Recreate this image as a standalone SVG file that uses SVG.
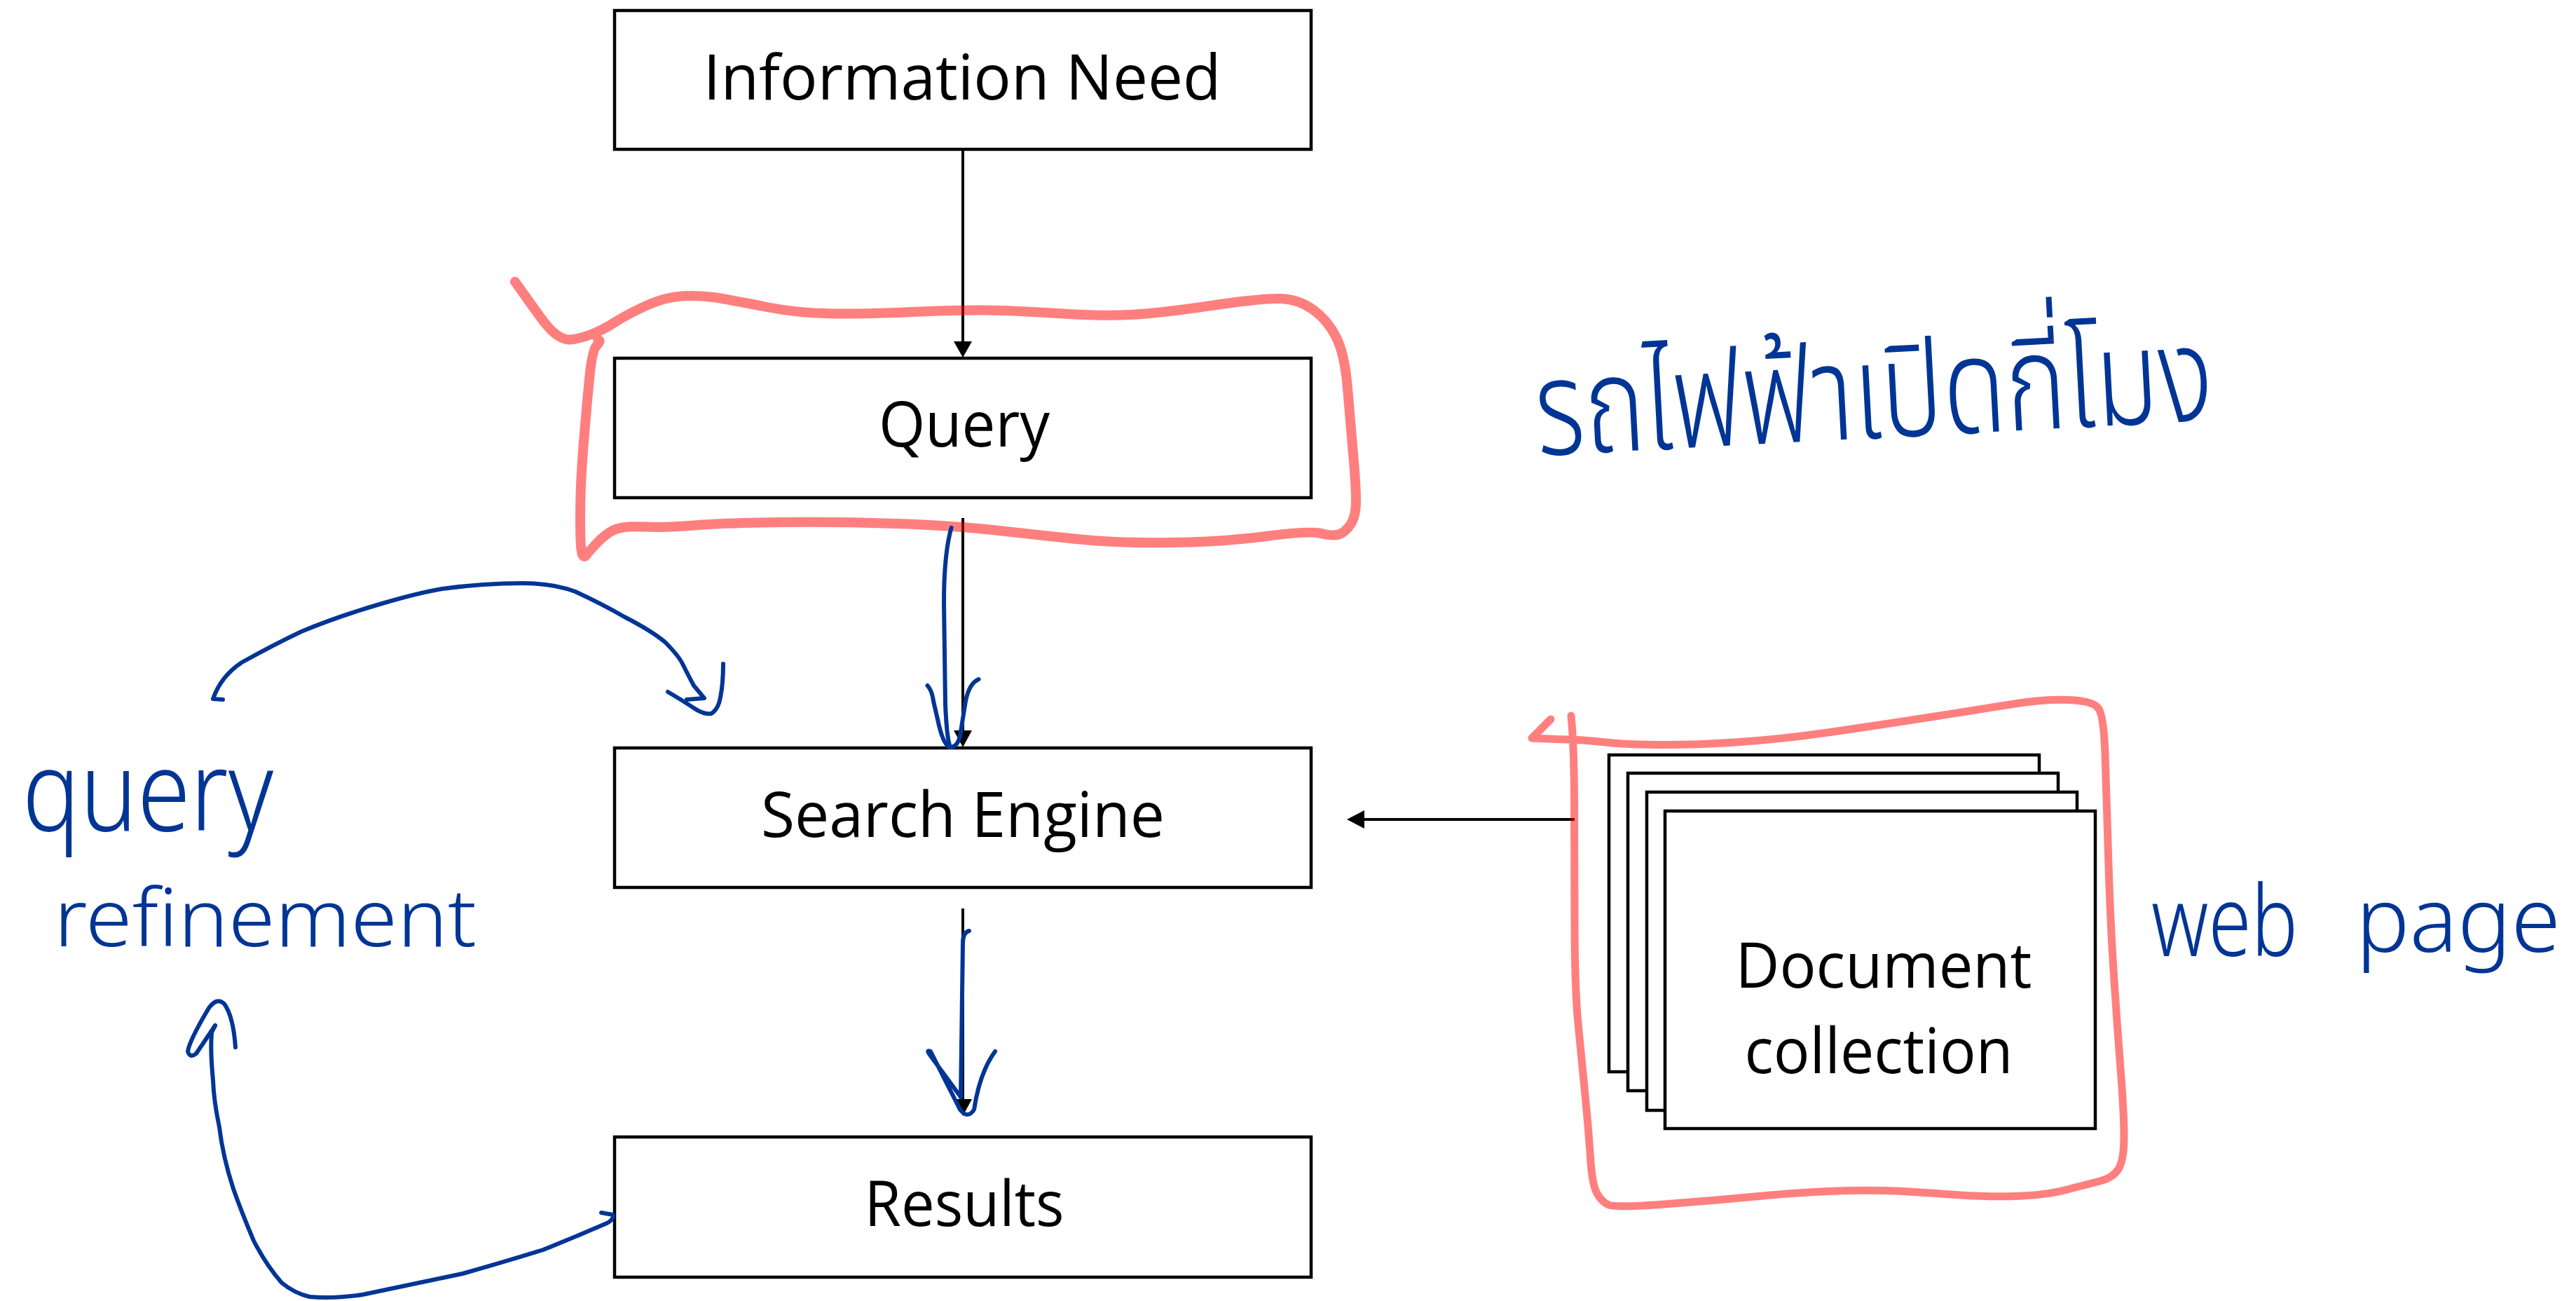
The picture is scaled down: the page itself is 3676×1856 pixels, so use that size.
<svg xmlns="http://www.w3.org/2000/svg" width="3676" height="1856" viewBox="0 0 3676 1856">
  <defs>
    <style>
      .box { fill: #ffffff; stroke: #000000; stroke-width: 4.5; }
      .label { font-family: "Open Sans", "Noto Sans", "DejaVu Sans", sans-serif; font-size: 89px; fill: #000000; text-anchor: middle; }
      .flow { stroke: #000000; stroke-width: 4; fill: none; }
      .head { fill: #000000; }
      .pen { fill: none; stroke: #003595; stroke-width: 6; stroke-linecap: round; stroke-linejoin: round; }
      .hl { fill: none; stroke: #ff0000; stroke-opacity: 0.5; stroke-linecap: round; stroke-linejoin: round; }
      .note { font-family: "Noto Sans", "DejaVu Sans", sans-serif; font-weight: 300; fill: #003595; }
      .thai { font-family: "Noto Sans Thai", "Noto Sans", "DejaVu Sans", sans-serif; font-weight: 300; fill: #003595; }
    </style>
  </defs>
  <rect width="3676" height="1856" fill="#ffffff"/>

  <!-- pipeline boxes -->
  <g id="information-need">
    <rect class="box" x="877" y="15" width="994" height="198"/>
    <text class="label" x="1373" y="142" textLength="739" lengthAdjust="spacingAndGlyphs">Information Need</text>
  </g>
  <g id="query">
    <rect class="box" x="877" y="511" width="994" height="199"/>
    <text class="label" x="1376" y="637" textLength="244" lengthAdjust="spacingAndGlyphs">Query</text>
  </g>
  <g id="search-engine">
    <rect class="box" x="877" y="1067" width="994" height="199"/>
    <text class="label" x="1374" y="1194" textLength="576" lengthAdjust="spacingAndGlyphs">Search Engine</text>
  </g>
  <g id="results">
    <rect class="box" x="877" y="1622" width="994" height="200"/>
    <text class="label" x="1376" y="1749" textLength="285" lengthAdjust="spacingAndGlyphs">Results</text>
  </g>
  <g id="document-collection">
    <rect class="box" x="2296" y="1077" width="614" height="452"/>
    <rect class="box" x="2323" y="1103" width="614" height="453"/>
    <rect class="box" x="2350" y="1130" width="614" height="454"/>
    <rect class="box" x="2376" y="1157" width="614" height="453"/>
    <text class="label" x="2688" y="1409" textLength="423" lengthAdjust="spacingAndGlyphs">Document</text>
    <text class="label" x="2681" y="1531" textLength="383" lengthAdjust="spacingAndGlyphs">collection</text>
  </g>

  <!-- connectors -->
  <g id="connectors">
    <line class="flow" x1="1374" y1="213" x2="1374" y2="490"/>
    <polygon class="head" points="1374,510 1361,487 1387,487"/>
    <line class="flow" x1="1374" y1="739" x2="1374" y2="1045"/>
    <polygon class="head" points="1374,1066 1361,1042 1387,1042"/>
    <line class="flow" x1="1374" y1="1296" x2="1374" y2="1570"/>
    <polygon class="head" points="1374,1592 1361,1568 1387,1568"/>
    <line class="flow" x1="2247" y1="1169" x2="1944" y2="1169"/>
    <polygon class="head" points="1922,1169 1947,1156 1947,1182"/>
  </g>

  <!-- highlighter rings -->
  <g id="highlights">
    <path class="hl" stroke-width="14" d="M735,402 Q758,434 770.5,451.5 Q783,469 793.5,477 Q804,485 814,484.5 Q824,484 841,478 Q858,472 874.5,461.5 Q891,451 911.5,441 Q932,431 948.5,426.5 Q965,422 986,422 Q1007,422 1027.5,425.5 Q1048,429 1094,438 Q1140,447 1189.5,447.5 Q1239,448 1301,445 Q1363,442 1404.5,442.5 Q1446,443 1508.5,447 Q1571,451 1612.5,449 Q1654,447 1728.5,436 Q1803,425 1828,426 Q1853,427 1873.5,441.5 Q1894,456 1906.5,480.5 Q1919,505 1923,554 Q1927,603 1931,647.5 Q1935,692 1935,714.5 Q1935,737 1927,748.5 Q1919,760 1910.5,762.5 Q1902,765 1885.5,761 Q1869,757 1807,765 Q1745,773 1670.5,774 Q1596,775 1542,769.5 Q1488,764 1425.5,757 Q1363,750 1280.5,747 Q1198,744 1115,745 Q1032,746 990.5,749.5 Q949,753 920,751.5 Q891,750 878.5,755 Q866,760 853.5,773 Q841,786 837,791.5 Q833,797 830.5,789.5 Q828,782 828,737 Q828,692 832.5,636.5 Q837,581 841,540.5 Q845,500 851,493.5 Q857,487 855,485.5 L853,484"/>
    <path class="hl" stroke-width="11" d="M2242,1021 Q2246,1062 2246.5,1133.5 Q2247,1205 2247,1307 Q2247,1409 2252,1460 Q2257,1511 2262,1562 Q2267,1613 2269.5,1651.5 Q2272,1690 2279,1702.5 Q2286,1715 2296,1719 Q2306,1723 2374,1718 Q2442,1713 2510,1706.5 Q2578,1700 2636.5,1698.5 Q2695,1697 2763,1702.5 Q2831,1708 2875,1706.5 Q2919,1705 2948,1697.5 Q2977,1690 2996.5,1685 Q3016,1680 3023.5,1667 Q3031,1654 3031,1621 Q3031,1588 3026,1524 Q3021,1460 3016,1383.5 Q3011,1307 3008.5,1218 Q3006,1129 3004,1075 Q3002,1021 2994.5,1010.5 Q2987,1000 2953,998.5 Q2919,997 2875,1004 Q2831,1011 2758,1022.5 Q2685,1034 2612,1044.5 Q2539,1055 2476,1059 Q2413,1063 2364.5,1062.5 Q2316,1062 2286.5,1058.5 Q2257,1055 2220.5,1054.5 L2186,1053 L2213,1026"/>
  </g>

  <!-- pen strokes -->
  <g id="pen-arrows">
    <path class="pen" d="M1357.6,752.8 Q1347,790 1347,860 L1349,1005 Q1351,1050 1355,1063"/>
    <path class="pen" d="M1323.5,978 Q1330,985 1332,1000 L1340,1035 Q1347,1064 1356,1066 Q1366,1066 1370,1050 L1378,1000 Q1383,975 1396.5,969"/>
    <path class="pen" d="M1383,1328 Q1374,1330 1374,1345 L1371,1565"/>
    <path class="pen" d="M1371,1565 L1327,1505 Q1321,1497 1328,1500 L1370,1583 Q1381,1597 1390,1583 Q1398,1530 1420,1500"/>
    <path class="pen" d="M318,998 L304,997 Q315,965 345,945 Q390,920 430,901 Q480,880 545,861 Q600,845 631,840 Q690,832 746,832 Q790,832 821,844 Q860,862 891,880 Q930,900 949,916 Q968,935 974,947 Q983,965 990,978 L1005,996 L980,998"/>
    <path class="pen" d="M953,987 Q975,1000 990,1010 Q1005,1020 1015,1018 Q1025,1012 1028,995 Q1032,975 1032,947"/>
    <path class="pen" d="M858,1730 L875,1733 Q876,1740 866,1745 Q820,1765 775,1783 Q720,1800 660,1817 Q590,1832 517,1847 Q475,1853 442,1850 Q420,1845 402,1830 Q380,1805 362,1770 Q345,1730 333,1696 Q318,1650 313,1608 Q305,1570 304,1541 Q300,1500 302,1473 L307,1463"/>
    <path class="pen" d="M307,1463 L280,1503 Q271,1510 268,1500 Q270,1485 298,1438 Q310,1422 320,1432 Q333,1450 336,1494"/>
  </g>

  <!-- handwritten notes -->
  <g id="notes">
    <text class="thai" x="2194" y="650" font-size="190" textLength="968" lengthAdjust="spacingAndGlyphs" transform="rotate(-3 2194 650)">รถไฟฟ้าเปิดกี่โมง</text>
    <text class="note" x="32" y="1185" font-size="160" textLength="358" lengthAdjust="spacingAndGlyphs">query</text>
    <text class="note" x="77" y="1350" font-size="115" textLength="603" lengthAdjust="spacingAndGlyphs">refinement</text>
    <text class="note" x="3070" y="1364" font-size="140" textLength="209" lengthAdjust="spacingAndGlyphs">web</text>
    <text class="note" x="3362" y="1358" font-size="128" textLength="292" lengthAdjust="spacingAndGlyphs">page</text>
  </g>
</svg>
